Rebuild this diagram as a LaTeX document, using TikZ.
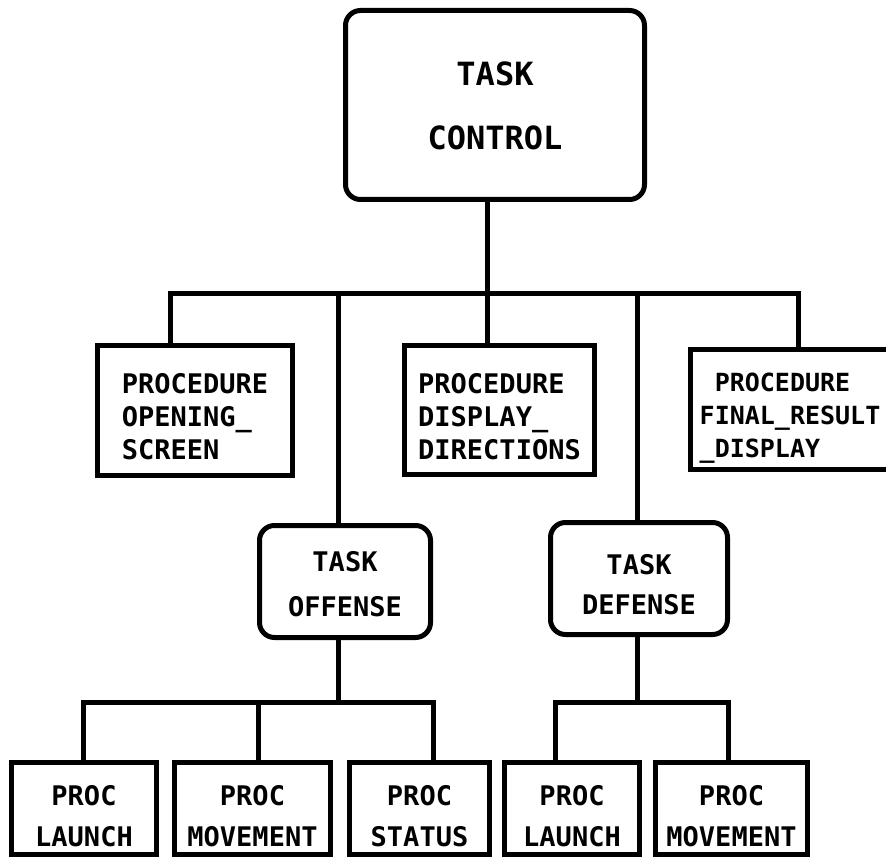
\documentclass[tikz,border=0pt]{standalone}
\usepackage{fontspec}
\setmonofont{DejaVu Sans Mono}
\newcommand\lowtext[3]{\raisebox{#1}[\height][\depth]{\begin{tabular}{@{}#2@{}}#3\end{tabular}}}
\begin{document}
\begin{tikzpicture}[x=1pt,y=-1pt,
  box/.style={draw, line width=5pt, inner sep=0pt, font=\ttfamily\bfseries\fontsize{27}{33}\selectfont},
  rbox/.style={box, rounded corners=15pt},
  wire/.style={line width=5pt, line join=miter, line cap=rect}]
\useasboundingbox (0,0) rectangle (886,861);
\clip (0,0) rectangle (886,861);
\fill[white] (0,0) rectangle (886,861);

% top
\node[rbox, minimum width=299pt, minimum height=189pt, font=\ttfamily\bfseries\fontsize{32}{64}\selectfont] (top) at (495,105) {\lowtext{0pt}{c}{TASK\\CONTROL}};

% level 2
\node[box, minimum width=195pt, minimum height=130pt] (open) at (195,410.5) {\lowtext{-9pt}{l}{PROCEDURE\\OPENING\_\\SCREEN}};
\node[box, minimum width=190pt, minimum height=129pt] (disp) at (499.5,410) {\lowtext{-10pt}{l}{PROCEDURE\\DISPLAY\_\\DIRECTIONS}};
\node[box, minimum width=220pt, minimum height=120pt, font=\ttfamily\bfseries\fontsize{25}{33}\selectfont] (final) at (800,409.5) {\hspace*{-20pt}\lowtext{-8pt}{l}{\hphantom{P}PROCEDURE\\FINAL\_RESULT\\\_DISPLAY}};

% tasks
\node[rbox, minimum width=171pt, minimum height=112pt, font=\ttfamily\bfseries\fontsize{27}{45}\selectfont] (off) at (345,581.5) {\lowtext{-3pt}{c}{TASK\\OFFENSE}};
\node[rbox, minimum width=177pt, minimum height=112pt, font=\ttfamily\bfseries\fontsize{27}{40}\selectfont] (def) at (639,578.5) {\lowtext{-8pt}{c}{TASK\\DEFENSE}};

% bottom row
\tikzset{leaf/.style={box, minimum height=92pt, font=\ttfamily\bfseries\fontsize{27}{41}\selectfont}}
\node[leaf, minimum width=145pt] (l1) at (84,808.5) {\lowtext{-9pt}{c}{PROC\\LAUNCH}};
\node[leaf, minimum width=156pt] (m1) at (252.5,808.5) {\lowtext{-9pt}{c}{PROC\\MOVEMENT}};
\node[leaf, minimum width=140pt] (st) at (419.5,808.5) {\lowtext{-9pt}{c}{PROC\\STATUS}};
\node[leaf, minimum width=135pt] (l2) at (572,808.5) {\lowtext{-9pt}{c}{PROC\\LAUNCH}};
\node[leaf, minimum width=152pt] (m2) at (731.5,808.5) {\lowtext{-9pt}{c}{PROC\\MOVEMENT}};

% junction coordinates
\coordinate (busL) at (170,293);
\coordinate (busR) at (798,293);
\coordinate (j0) at (487,293);
\coordinate (jo) at (338,293);
\coordinate (jd) at (637,293);
\coordinate (obL) at (83,702);
\coordinate (obM) at (258,702);
\coordinate (obR) at (433,702);
\coordinate (oj) at (338,702);
\coordinate (dbL) at (555,702);
\coordinate (dbR) at (728,702);
\coordinate (dj) at (637,702);

% connectors
\draw[wire] (busL |- open.north) -- (busL) -- (busR) -- (busR |- final.north);
\draw[wire] (top.south -| j0) -- (disp.north -| j0);
\draw[wire] (jo) -- (jo |- off.north);
\draw[wire] (jd) -- (jd |- def.north);

\draw[wire] (obL |- l1.north) -- (obL) -- (obR) -- (obR |- st.north);
\draw[wire] (obM) -- (obM |- m1.north);
\draw[wire] (off.south -| oj) -- (oj);

\draw[wire] (dbL |- l2.north) -- (dbL) -- (dbR) -- (dbR |- m2.north);
\draw[wire] (def.south -| dj) -- (dj);
\end{tikzpicture}
\end{document}
